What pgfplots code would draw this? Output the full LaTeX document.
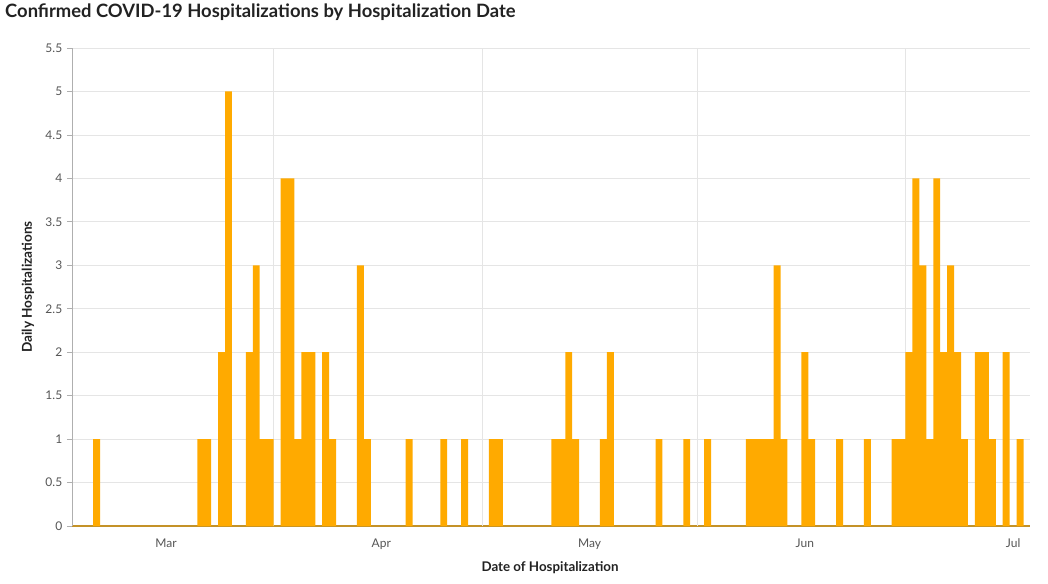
\documentclass[border=0pt]{standalone}
\usepackage{pgfplots}
\pgfplotsset{compat=1.18}
\usepackage{fontspec}
\setmainfont{Lato}
\definecolor{barc}{RGB}{255,170,0}
\definecolor{basec}{RGB}{196,146,40}
\definecolor{gridc}{RGB}{229,229,229}
\definecolor{tickc}{RGB}{85,85,85}
\definecolor{axc}{RGB}{175,175,175}
\definecolor{labc}{RGB}{34,34,34}
\begin{document}
\begin{tikzpicture}
\begin{axis}[
  scale only axis,
  width=718.65pt, height=358.5pt,
  xmin=-0.5, xmax=137.5, ymin=0, ymax=5.5,
  axis lines*=left,
  axis line style={-},
  x axis line style={draw=basec, line width=0.9pt},
  y axis line style={draw=axc, line width=0.6pt},
  ytick={0,0.5,...,5.5},
  ymajorgrids=true,
  grid style={draw=gridc, line width=0.6pt},
  tick align=outside,
  y tick style={draw=axc, line width=0.6pt},
  major tick length=4pt,
  yticklabel style={font=\fontsize{9}{10}\selectfont, text=tickc},
  xtick={13,44,74,105,135},
  xticklabels={Mar,Apr,May,Jun,Jul},
  x tick style={draw=none},
  xticklabel style={font=\fontsize{9}{10}\selectfont, text=tickc, yshift=-2pt},
  extra x ticks={28.5,58.5,89.5,119.5},
  extra x tick labels={},
  extra x tick style={xmajorgrids=true, tick style={draw=axc, line width=0.6pt}, major tick length=4pt},
  /pgf/number format/assume math mode=true,
  ybar, bar width=1,
  clip=false,
]
\addplot[fill=barc, draw=none] coordinates {
(3,1) (18,1) (19,1) (21,2) (22,5) (25,2) (26,3) (27,1) (28,1)
(30,4) (31,4) (32,1) (33,2) (34,2) (36,2) (37,1) (41,3) (42,1)
(48,1) (53,1) (56,1) (60,1) (61,1) (69,1) (70,1) (71,2) (72,1)
(76,1) (77,2) (84,1) (88,1) (91,1) (97,1) (98,1) (99,1) (100,1)
(101,3) (102,1) (105,2) (106,1) (110,1) (114,1) (118,1) (119,1)
(120,2) (121,4) (122,3) (123,1) (124,4) (125,2) (126,3) (127,2)
(128,1) (130,2) (131,2) (132,1) (134,2) (136,1)
};
\end{axis}
\node[anchor=west, font=\bfseries\fontsize{13.8}{15}\selectfont, text=labc, inner sep=0pt] at (-50.5pt,385.5pt) {Confirmed COVID-19 Hospitalizations by Hospitalization Date};
\node[font=\bfseries\fontsize{10.2}{11}\selectfont, text=labc, rotate=90, inner sep=0pt] at (-33.2pt,179.25pt) {Daily Hospitalizations};
\node[font=\bfseries\fontsize{10}{11}\selectfont, text=labc, inner sep=0pt] at (358.3pt,-31.5pt) {Date of Hospitalization};
\path (-54.2pt,-42.75pt) rectangle (731.8pt,394.5pt);
\end{tikzpicture}
\end{document}
